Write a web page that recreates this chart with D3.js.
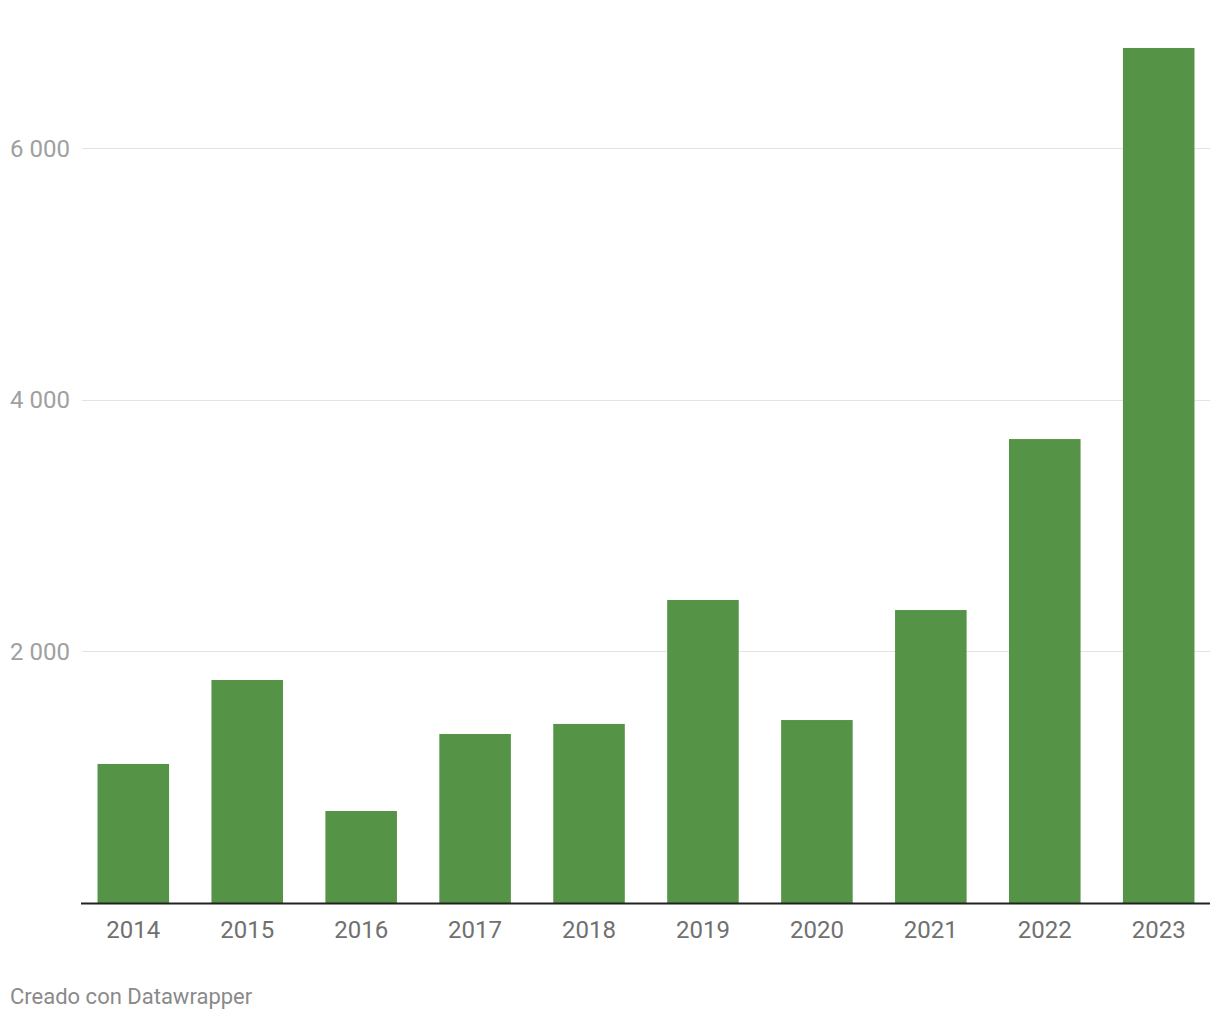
<!DOCTYPE html>
<html>
<head>
<meta charset="utf-8">
<script src="https://cdn.jsdelivr.net/npm/d3@7"></script>
<style>
  html, body { margin: 0; padding: 0; background: #fff; }
  svg { display: block; font-family: Roboto, "Noto Sans", sans-serif; }
</style>
</head>
<body>
<svg id="chart" width="1220" height="1020"></svg>
<script>
const years = ["2014","2015","2016","2017","2018","2019","2020","2021","2022","2023"];
const values = [1105, 1772, 731, 1343, 1423, 2408, 1454, 2328, 3687, 6795];
const yTicks = [2000, 4000, 6000];
const yTickLabels = ["2 000", "4 000", "6 000"];
const footer = "Creado con Datawrapper";

const svg = d3.select("#chart");
const x = d3.scaleBand().domain(years).range([81, 1211]).paddingInner(0.372).paddingOuter(0.145);
const y = d3.scaleLinear().domain([0, 6000]).range([903, 148]);

// gridlines
svg.append("g").selectAll("line").data(yTicks).join("line")
  .attr("x1", 82).attr("x2", 1210)
  .attr("y1", d => Math.round(y(d)) + 0.5).attr("y2", d => Math.round(y(d)) + 0.5)
  .attr("stroke", "#e3e3e3").attr("stroke-width", 1);

// y labels
svg.append("g").selectAll("text").data(yTicks).join("text")
  .attr("x", 10).attr("y", d => y(d) + 8.5)
  .attr("font-size", 24).attr("fill", "#a0a0a0")
  .text((d, i) => yTickLabels[i]);

// bars
svg.append("g").selectAll("rect").data(values).join("rect")
  .attr("x", (d, i) => x(years[i]))
  .attr("width", x.bandwidth())
  .attr("y", d => y(d))
  .attr("height", d => y(0) - y(d))
  .attr("fill", "#559346");

// baseline
svg.append("line").attr("x1", 81).attr("x2", 1210)
  .attr("y1", 903.5).attr("y2", 903.5).attr("stroke", "#222").attr("stroke-width", 2);

// x labels
svg.append("g").selectAll("text").data(years).join("text")
  .attr("x", d => x(d) + x.bandwidth() / 2).attr("y", 938)
  .attr("text-anchor", "middle").attr("font-size", 24).attr("fill", "#707070")
  .text(d => d);

svg.append("text").attr("x", 10).attr("y", 1004)
  .attr("font-size", 22).attr("fill", "#8a8a8a").text(footer);
</script>
</body>
</html>
